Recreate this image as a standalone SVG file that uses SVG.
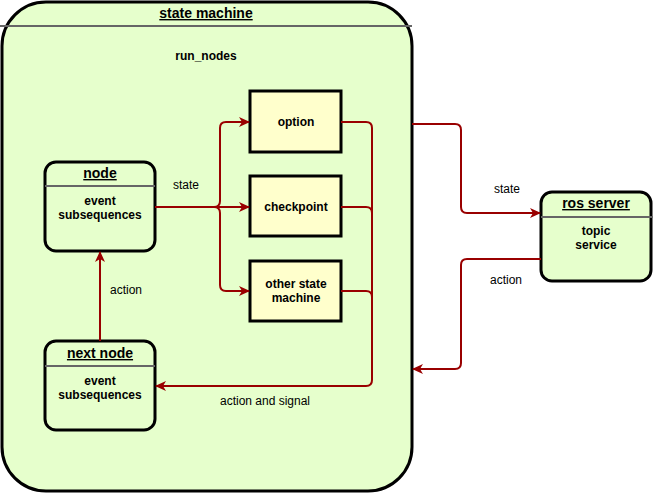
<svg xmlns="http://www.w3.org/2000/svg" width="653" height="493" viewBox="0 0 653 493">
<style>
text{font-family:"Liberation Sans",Arial,sans-serif;font-size:12px;fill:#000;text-anchor:middle}
.b{font-weight:bold}
.u{text-decoration:underline;font-size:14px}
.st{fill:#E6FFCC;stroke:#000;stroke-width:3}
.box{fill:#FFFFCC;stroke:#000;stroke-width:3}
.sep{stroke:#666;stroke-width:2}
.c{fill:none;stroke:#990000;stroke-width:2}
</style>
<defs>
<marker id="a" markerWidth="12" markerHeight="10" refX="10" refY="5" orient="auto" markerUnits="userSpaceOnUse">
<path d="M0,0 L11,5 L0,10 L3,5 z" fill="#990000"/>
</marker>
</defs>
<g id="state-machine">
<rect class="st" x="2" y="2" width="410" height="489" rx="44"/>
<line class="sep" x1="0" y1="26" x2="412" y2="26"/>
<text class="b u" x="206" y="18">state machine</text>
<text class="b" x="206" y="60">run_nodes</text>
</g>
<g id="node">
<rect class="st" x="45" y="162" width="110" height="89" rx="11"/>
<line class="sep" x1="45" y1="186" x2="155" y2="186"/>
<text class="b u" x="100" y="178">node</text>
<text class="b" x="100" y="205">event</text>
<text class="b" x="100" y="219">subsequences</text>
</g>
<g id="next-node">
<rect class="st" x="45" y="341" width="110" height="89" rx="11"/>
<line class="sep" x1="45" y1="366" x2="155" y2="366"/>
<text class="b u" x="100" y="358">next node</text>
<text class="b" x="100" y="385">event</text>
<text class="b" x="100" y="399">subsequences</text>
</g>
<g id="option">
<rect class="box" x="250" y="91" width="91" height="61"/>
<text class="b" x="296" y="126">option</text>
</g>
<g id="checkpoint">
<rect class="box" x="250" y="176" width="91" height="60"/>
<text class="b" x="296" y="211">checkpoint</text>
</g>
<g id="other-state-machine">
<rect class="box" x="250" y="261" width="91" height="60"/>
<text class="b" x="296" y="288">other state</text>
<text class="b" x="296" y="302">machine</text>
</g>
<g id="ros-server">
<rect class="st" x="541" y="192" width="110" height="89" rx="11"/>
<line class="sep" x1="541" y1="217" x2="653" y2="217"/>
<text class="b u" x="596" y="208">ros server</text>
<text class="b" x="596" y="235">topic</text>
<text class="b" x="596" y="249">service</text>
</g>
<g id="connectors">
<path class="c" marker-end="url(#a)" d="M155,207 H214 Q220,207 220,201 V128 Q220,122 226,122 H249"/>
<path class="c" marker-end="url(#a)" d="M155,207 H249"/>
<path class="c" marker-end="url(#a)" d="M155,207 H214 Q220,207 220,213 V285 Q220,291 226,291 H249"/>
<path class="c" marker-end="url(#a)" d="M341,122 H366 Q372,122 372,128 V380 Q372,386 366,386 H156"/>
<path class="c" d="M341,207 H366 Q372,207 372,213 V380"/>
<path class="c" d="M341,291 H366 Q372,291 372,297 V380"/>
<path class="c" marker-end="url(#a)" d="M100,341 V252"/>
<path class="c" marker-end="url(#a)" d="M412,124 H455 Q461,124 461,130 V207 Q461,213 467,213 H540"/>
<path class="c" marker-end="url(#a)" d="M541,259 H467 Q461,259 461,265 V363 Q461,369 455,369 H413"/>
<text x="186" y="189">state</text>
<text x="126" y="294">action</text>
<text x="265" y="405">action and signal</text>
<text x="507" y="193">state</text>
<text x="506" y="284">action</text>
</g>
</svg>
